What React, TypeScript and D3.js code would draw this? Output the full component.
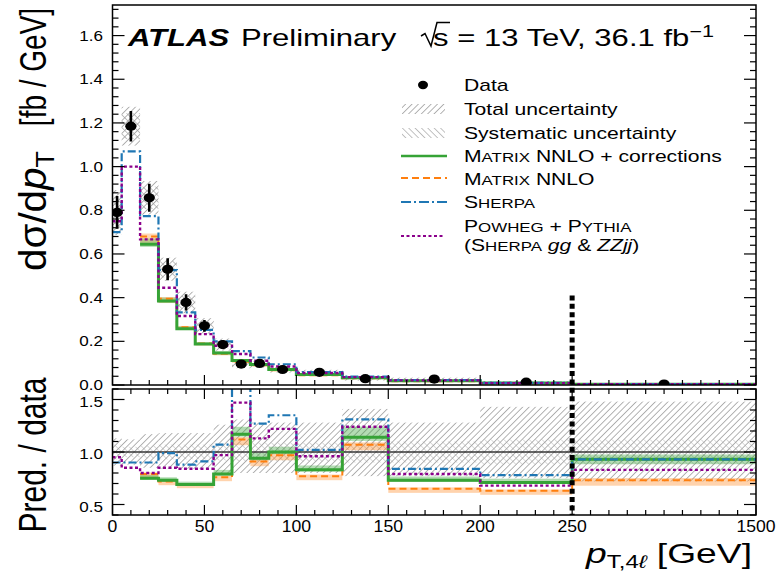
import React from "react";
import * as d3 from "d3";

// bin edges in pT,4l [GeV]; last bin 250-1500 is drawn compressed
const edges = [0, 5, 15, 25, 35, 45, 55, 65, 75, 85, 100, 125, 150, 200, 250, 1500];

// measured cross section [fb/GeV]
const dataVals = [0.79, 1.185, 0.857, 0.53, 0.378, 0.271, 0.185, 0.096, 0.099, 0.071, 0.058, 0.029, 0.027, 0.013, 0.004];
const dataStat = [0.075, 0.07, 0.064, 0.05, 0.037, 0.027, 0.02, 0.013, 0.013, 0.009, 0.007, 0.005, 0.004, 0.003, 0.001];
// relative total / systematic uncertainty (upper panel boxes)
const topTotRel = [0.13, 0.075, 0.09, 0.1, 0.13, 0.13, 0.15, 0.2, 0.2, 0.2, 0.2, 0.3, 0.25, 0.4, 0.45];
const topSysRel = [0.09, 0.05, 0.06, 0.07, 0.08, 0.08, 0.09, 0.1, 0.1, 0.1, 0.1, 0.12, 0.12, 0.15, 0.15];
// ratio panel uncertainty
const ratioTotUp = [0.13, 0.12, 0.17, 0.18, 0.18, 0.18, 0.26, 0.31, 0.28, 0.28, 0.28, 0.41, 0.28, 0.43, 0.48];
const ratioTotDn = [0.13, 0.12, 0.15, 0.16, 0.16, 0.16, 0.2, 0.2, 0.2, 0.2, 0.2, 0.23, 0.23, 0.25, 0.28];
const ratioSys = [0.07, 0.05, 0.06, 0.07, 0.07, 0.07, 0.08, 0.09, 0.09, 0.09, 0.09, 0.1, 0.1, 0.12, 0.12];

// predictions, upper panel [fb/GeV]
const matrixCorr = [null, null, 0.645, 0.385, 0.258, 0.188, 0.147, 0.112, 0.094, 0.071, 0.048, 0.033, 0.0197, 0.0092, 0.0037];
const matrixNNLO = [null, null, 0.68, 0.395, 0.265, 0.19, 0.143, 0.107, 0.09, 0.068, 0.045, 0.031, 0.0176, 0.0082, 0.0029];
const sherpa = [0.7, 1.07, 0.773, 0.526, 0.333, 0.252, 0.2, 0.155, 0.126, 0.095, 0.059, 0.038, 0.023, 0.01, 0.0037];
const powheg = [0.75, 1.0, 0.667, 0.445, 0.316, 0.233, 0.18, 0.142, 0.111, 0.085, 0.055, 0.036, 0.021, 0.0088, 0.0033];

// predictions / data
const ratioMatrixCorr = [null, null, 0.75, 0.73, 0.69, 0.69, 0.79, 1.17, 0.94, 1.0, 0.83, 1.14, 0.73, 0.71, 0.93];
const ratioMatrixNNLO = [null, null, 0.79, 0.72, 0.69, 0.69, 0.76, 1.12, 0.91, 0.97, 0.77, 1.07, 0.65, 0.63, 0.73];
const ratioSherpa = [0.9, 0.9, 0.9, 0.99, 0.88, 0.91, 1.07, 1.65, 1.27, 1.35, 1.02, 1.31, 0.84, 0.78, 0.93];
const ratioPowheg = [0.95, 0.85, 0.8, 0.85, 0.84, 0.84, 0.97, 1.47, 1.13, 1.22, 0.96, 1.24, 0.79, 0.68, 0.83];

// theory bands (relative)
const greenUp = [0, 0, 0.04, 0.04, 0.04, 0.04, 0.05, 0.06, 0.06, 0.05, 0.05, 0.09, 0.05, 0.05, 0.05];
const greenDn = [0, 0, 0.02, 0.02, 0.02, 0.02, 0.02, 0.02, 0.02, 0.02, 0.02, 0.03, 0.02, 0.02, 0.05];
const orangeUp = [0, 0, 0.02, 0.02, 0.02, 0.02, 0.02, 0.02, 0.02, 0.02, 0.02, 0.02, 0.02, 0.02, 0.03];
const orangeDn = [0, 0, 0.05, 0.05, 0.05, 0.05, 0.05, 0.05, 0.05, 0.05, 0.05, 0.05, 0.06, 0.06, 0.07];

// axis ticks
const xMajor = [0, 50, 100, 150, 200, 250, 1500];
const xTickLabels = ["0", "50", "100", "150", "200", "250", "1500"];
const yTopMajor = [0, 0.2, 0.4, 0.6, 0.8, 1.0, 1.2, 1.4, 1.6];
const yTopLabels = ["0.0", "0.2", "0.4", "0.6", "0.8", "1.0", "1.2", "1.4", "1.6"];
const yRatioMajor = [0.5, 1.0, 1.5];
const yRatioLabels = ["0.5", "1.0", "1.5"];

const FONT = "'Liberation Sans', Arial, Helvetica, sans-serif";
const GREEN = "#36a336";
const ORANGE = "#ff7f0e";
const BLUE = "#1f77b4";
const PURPLE = "#8b008b";

const xs = d3.scaleLinear().domain([0, 350]).range([112.5, 756]);
const X = (v: number) => xs(v <= 250 ? v : 250 + ((v - 250) * 100) / 1250);
const yT = d3.scaleLinear().domain([0, 1.74]).range([385, 5]);
const yR = d3.scaleLinear().domain([0.4, 1.6]).range([515, 389]);

function stepPath(vals: (number | null)[], y: d3.ScaleLinear<number, number>) {
  const p = d3.path();
  let open = false;
  vals.forEach((v, i) => {
    if (v == null) {
      open = false;
      return;
    }
    const x0 = X(edges[i]);
    const x1 = X(edges[i + 1]);
    if (!open) p.moveTo(x0, y(v));
    else p.lineTo(x0, y(v));
    p.lineTo(x1, y(v));
    open = true;
  });
  return p.toString();
}

const SText = ({ x, y, sx = 1.32, children, ...rest }: any) => (
  <text transform={`translate(${x},${y}) scale(${sx},1)`} fontFamily={FONT} {...rest}>
    {children}
  </text>
);

function Ticks({ y0, y1, yScale, major, minorStep, minorMax, minorMin, topTicks }: any) {
  const out: any[] = [];
  // x ticks
  const xMinor = d3.range(0, 351, 10);
  xMinor.forEach((v) => {
    const isMajor = v % 50 === 0 && v !== 300;
    const len = isMajor ? 10 : 5;
    const xx = xs(v);
    out.push(<line key={`xb${v}`} x1={xx} x2={xx} y1={y1} y2={y1 - len} />);
    if (topTicks) out.push(<line key={`xt${v}`} x1={xx} x2={xx} y1={y0} y2={y0 + len} />);
  });
  const minors = d3.range(minorMin, minorMax + 1e-6, minorStep);
  minors.forEach((v: number, i: number) => {
    const isMajor = major.some((m: number) => Math.abs(m - v) < 1e-6);
    const len = isMajor ? 12 : 6;
    const yy = yScale(v);
    out.push(<line key={`yl${i}`} x1={112.5} x2={112.5 + len} y1={yy} y2={yy} />);
    out.push(<line key={`yr${i}`} x1={756} x2={756 - len} y1={yy} y2={yy} />);
  });
  return (
    <g stroke="#000" strokeWidth={1.2}>
      {out}
    </g>
  );
}

export default function App() {
  const bins = dataVals.map((v, i) => ({ i, v, x0: X(edges[i]), x1: X(edges[i + 1]) }));

  const bandRects = (vals: (number | null)[], up: number[], dn: number[], y: any, fill: string, key: string) =>
    vals.map((v, i) =>
      v == null ? null : (
        <rect
          key={`${key}${i}`}
          x={X(edges[i])}
          width={X(edges[i + 1]) - X(edges[i])}
          y={y(v * (1 + up[i]))}
          height={y(v * (1 - dn[i])) - y(v * (1 + up[i]))}
          fill={fill}
        />
      )
    );

  return (
    <svg width={779} height={575} style={{ position: "absolute", left: 0, top: 0, background: "#fff" }}>
      <defs>
        <pattern id="hTot" width={4.5} height={4.5} patternUnits="userSpaceOnUse" patternTransform="rotate(45)">
          <line x1={0} y1={0} x2={0} y2={4.5} stroke="#8a8a8a" strokeWidth={1.3} />
        </pattern>
        <pattern id="hSys" width={4.5} height={4.5} patternUnits="userSpaceOnUse" patternTransform="rotate(-45)">
          <line x1={0} y1={0} x2={0} y2={4.5} stroke="#a0a0a0" strokeWidth={1.3} />
        </pattern>
        <clipPath id="clipR">
          <rect x={112.5} y={389} width={756 - 112.5} height={126} />
        </clipPath>
        <clipPath id="clipT">
          <rect x={112.5} y={5} width={756 - 112.5} height={380} />
        </clipPath>
      </defs>

      {/* ---------- upper panel ---------- */}
      <g clipPath="url(#clipT)">
        {bins.map((b) => (
          <g key={`box${b.i}`}>
            <rect x={b.x0} width={b.x1 - b.x0} y={yT(b.v * (1 + topTotRel[b.i]))}
              height={yT(b.v * (1 - topTotRel[b.i])) - yT(b.v * (1 + topTotRel[b.i]))} fill="url(#hTot)" />
            <rect x={b.x0} width={b.x1 - b.x0} y={yT(b.v * (1 + topSysRel[b.i]))}
              height={yT(b.v * (1 - topSysRel[b.i])) - yT(b.v * (1 + topSysRel[b.i]))} fill="url(#hSys)" />
          </g>
        ))}
        {bandRects(matrixNNLO, orangeUp, orangeDn, yT, "rgba(255,140,40,0.35)", "ob")}
        {bandRects(matrixCorr, greenUp, greenDn, yT, "rgba(54,163,54,0.35)", "gb")}
        <path d={stepPath(matrixNNLO, yT)} fill="none" stroke={ORANGE} strokeWidth={2} strokeDasharray="7,4" />
        <path d={stepPath(matrixCorr, yT)} fill="none" stroke={GREEN} strokeWidth={3} />
        <path d={stepPath(sherpa, yT)} fill="none" stroke={BLUE} strokeWidth={2.2} strokeDasharray="8,3,2,3" />
        <path d={stepPath(powheg, yT)} fill="none" stroke={PURPLE} strokeWidth={2.4} strokeDasharray="3,2.5" />
        {bins.map((b) => {
          const cx = (b.x0 + b.x1) / 2;
          return (
            <g key={`pt${b.i}`}>
              <line x1={cx} x2={cx} y1={yT(b.v + dataStat[b.i])} y2={yT(b.v - dataStat[b.i])} stroke="#000" strokeWidth={2.6} />
              <ellipse cx={cx} cy={yT(b.v)} rx={5.6} ry={4.6} fill="#000" />
            </g>
          );
        })}
      </g>
      <Ticks y0={5} y1={385} yScale={yT} major={yTopMajor} minorStep={0.04} minorMin={0} minorMax={1.72} topTicks={false} />
      <rect x={112.5} y={5} width={756 - 112.5} height={380} fill="none" stroke="#000" strokeWidth={1.5} />
      {yTopMajor.map((v, i) => (
        <SText key={`ytl${i}`} x={103} y={yT(v) + 5} sx={1.1} fontSize={15.5} textAnchor="end">
          {yTopLabels[i]}
        </SText>
      ))}

      {/* ---------- ratio panel ---------- */}
      <g clipPath="url(#clipR)">
        {bins.map((b) => (
          <g key={`rbox${b.i}`}>
            <rect x={b.x0} width={b.x1 - b.x0} y={yR(1 + ratioTotUp[b.i])}
              height={yR(1 - ratioTotDn[b.i]) - yR(1 + ratioTotUp[b.i])} fill="url(#hTot)" />
            <rect x={b.x0} width={b.x1 - b.x0} y={yR(1 + ratioSys[b.i])}
              height={yR(1 - ratioSys[b.i]) - yR(1 + ratioSys[b.i])} fill="url(#hSys)" opacity={0.6} />
          </g>
        ))}
        {bandRects(ratioMatrixNNLO, orangeUp, orangeDn, yR, "rgba(255,140,40,0.38)", "rob")}
        {bandRects(ratioMatrixCorr, greenUp, greenDn, yR, "rgba(54,163,54,0.38)", "rgb")}
        <line x1={112.5} x2={756} y1={yR(1)} y2={yR(1)} stroke="#333" strokeWidth={1.3} />
        <path d={stepPath(ratioMatrixNNLO, yR)} fill="none" stroke={ORANGE} strokeWidth={2} strokeDasharray="7,4" />
        <path d={stepPath(ratioMatrixCorr, yR)} fill="none" stroke={GREEN} strokeWidth={3} />
        <path d={stepPath(ratioSherpa, yR)} fill="none" stroke={BLUE} strokeWidth={2.2} strokeDasharray="8,3,2,3" />
        <path d={stepPath(ratioPowheg, yR)} fill="none" stroke={PURPLE} strokeWidth={2.4} strokeDasharray="3,2.5" />
      </g>
      <Ticks y0={389} y1={515} yScale={yR} major={yRatioMajor} minorStep={0.1} minorMin={0.4} minorMax={1.6} topTicks={true} />
      <rect x={112.5} y={389} width={756 - 112.5} height={126} fill="none" stroke="#000" strokeWidth={1.5} />
      {yRatioMajor.map((v, i) => (
        <SText key={`yrl${i}`} x={103} y={yR(v) + 7} sx={1.1} fontSize={15.5} textAnchor="end">
          {yRatioLabels[i]}
        </SText>
      ))}
      {xMajor.map((v, i) => (
        <SText key={`xl${i}`} x={X(v)} y={532} sx={1.1} fontSize={16} textAnchor="middle">
          {xTickLabels[i]}
        </SText>
      ))}

      {/* dotted marker at 250 GeV */}
      <line x1={X(250)} x2={X(250)} y1={yT(0.41)} y2={515} stroke="#000" strokeWidth={5} strokeDasharray="5,3.4" />

      {/* ---------- labels ---------- */}
      <SText x={128} y={46} sx={1.35} fontSize={23} fontWeight="bold" fontStyle="italic">ATLAS</SText>
      <SText x={241} y={46} sx={1.35} fontSize={23}>Preliminary</SText>
      <path d="M421,36 L425,33.5 L431,46 L437,22.5 L450,22.5" fill="none" stroke="#000" strokeWidth={1.5} />
      <SText x={433} y={46} sx={1.35} fontSize={23}>
        s = 13 TeV, 36.1 fb<tspan dy={-9} fontSize={16}>−1</tspan>
      </SText>

      <text transform="translate(46,67) scale(1.3,1) rotate(-90)" fontFamily={FONT} fontSize={28} textAnchor="middle">
        [fb / GeV]
      </text>
      <text transform="translate(46,211) scale(1.3,1) rotate(-90)" fontFamily={FONT} fontSize={30} textAnchor="middle"
        textLength={120} lengthAdjust="spacingAndGlyphs">
        dσ/d<tspan fontStyle="italic">p</tspan><tspan fontSize={20} dy={6}>T</tspan>
      </text>
      <text transform="translate(46,455) scale(1.3,1) rotate(-90)" fontFamily={FONT} fontSize={30} textAnchor="middle">
        Pred. / data
      </text>

      <SText x={752} y={563} sx={1.33} fontSize={28} textAnchor="end">
        <tspan fontStyle="italic">p</tspan>
        <tspan fontSize={18} dy={5}>T,4<tspan fontStyle="italic">ℓ</tspan></tspan>
        <tspan dy={-5}> [GeV]</tspan>
      </SText>

      {/* ---------- legend ---------- */}
      <ellipse cx={423} cy={85} rx={5} ry={4.2} fill="#000" />
      <SText x={464} y={91} fontSize={16}>Data</SText>
      <rect x={402} y={104} width={43} height={10} fill="url(#hTot)" />
      <SText x={464} y={115} fontSize={16}>Total uncertainty</SText>
      <rect x={402} y={128} width={43} height={10} fill="url(#hSys)" />
      <SText x={464} y={138.5} fontSize={16}>Systematic uncertainty</SText>
      <line x1={401} x2={447} y1={156} y2={156} stroke={GREEN} strokeWidth={2.5} />
      <SText x={464} y={162} fontSize={16}>
        M<tspan fontSize={12.8}>ATRIX</tspan> NNLO + corrections
      </SText>
      <line x1={401} x2={447} y1={178} y2={178} stroke={ORANGE} strokeWidth={2} strokeDasharray="7,4" />
      <SText x={464} y={184.5} fontSize={16}>
        M<tspan fontSize={12.8}>ATRIX</tspan> NNLO
      </SText>
      <line x1={401} x2={447} y1={202} y2={202} stroke={BLUE} strokeWidth={2} strokeDasharray="10,3,2,3" />
      <SText x={464} y={208} fontSize={16}>
        S<tspan fontSize={12.8}>HERPA</tspan>
      </SText>
      <line x1={401} x2={445} y1={236} y2={236} stroke={PURPLE} strokeWidth={2.2} strokeDasharray="3,2.5" />
      <SText x={464} y={232} fontSize={16}>
        P<tspan fontSize={12.8}>OWHEG</tspan> + P<tspan fontSize={12.8}>YTHIA</tspan>
      </SText>
      <SText x={464} y={251} fontSize={16}>
        (S<tspan fontSize={12.8}>HERPA</tspan> <tspan fontStyle="italic">gg</tspan> &amp; <tspan fontStyle="italic">ZZjj</tspan>)
      </SText>
    </svg>
  );
}
